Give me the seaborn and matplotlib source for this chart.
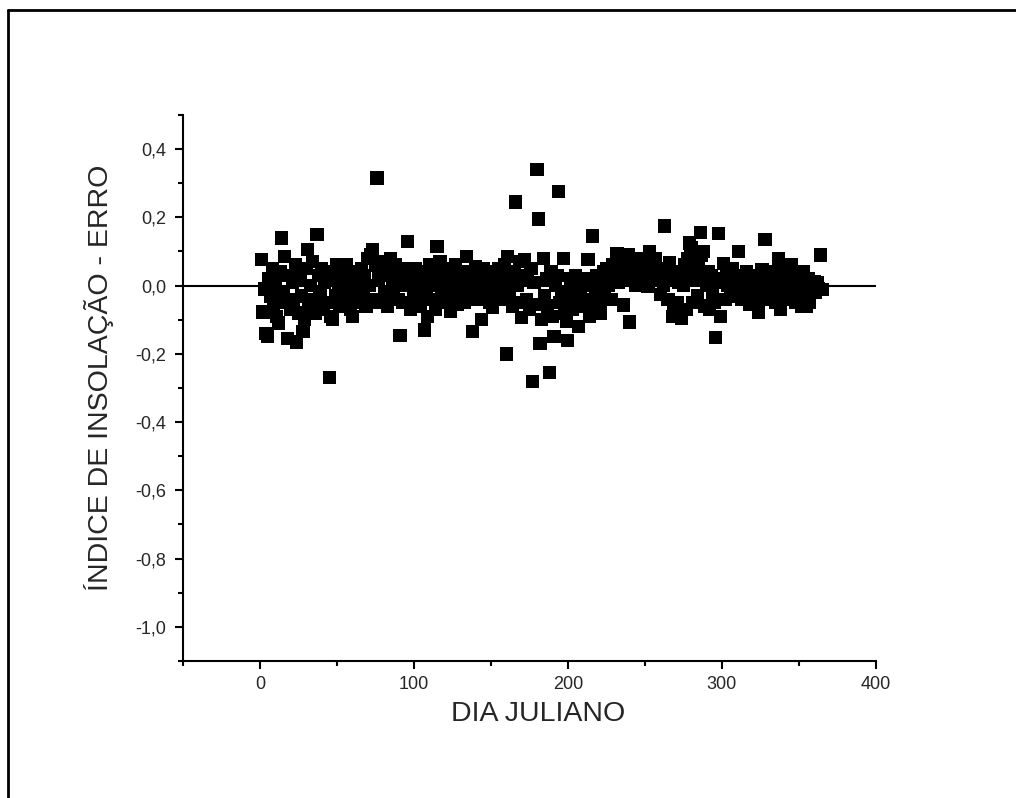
import numpy as np
import pandas as pd
import matplotlib
matplotlib.use("Agg")
import matplotlib.pyplot as plt
from matplotlib.ticker import MultipleLocator
from matplotlib.lines import Line2D
import seaborn as sns

# Erro do indice de insolacao por dia juliano
erro = [
    0.076, -0.077, -0.01, -0.14, -0.15, 0.02, -0.03, 0.05, -0.06, 0.01,
    -0.09, -0.11, 0.04, 0.14, -0.02, 0.085, -0.05, -0.155, 0.03, -0.07,
    0.01, -0.04, 0.06, -0.165, -0.08, 0.02, -0.03, -0.135, -0.1, 0.05,
    0.105, -0.06, 0.0, 0.07, -0.04, -0.08, 0.15, 0.03, -0.02, 0.05,
    -0.07, 0.01, -0.05, 0.04, -0.27, -0.09, -0.1, 0.02, -0.03, 0.06,
    0.0, -0.06, 0.03, -0.02, 0.05, 0.06, -0.04, 0.01, -0.07, -0.09,
    0.02, -0.03, 0.04, -0.05, 0.01, 0.05, -0.02, 0.03, -0.06, 0.08,
    0.0, 0.09, 0.105, -0.04, 0.06, 0.315, 0.02, -0.05, 0.07, 0.03,
    -0.02, 0.05, -0.06, 0.04, 0.08, 0.01, -0.03, 0.06, 0.02, -0.04,
    -0.147, 0.03, -0.05, 0.05, 0.0, 0.13, 0.04, -0.07, 0.02, -0.03,
    0.05, -0.01, 0.03, -0.06, 0.04, 0.01, -0.13, -0.02, -0.09, 0.06,
    -0.04, 0.03, 0.0, -0.07, 0.115, 0.02, 0.07, -0.03, 0.04, -0.05,
    0.01, 0.05, -0.02, -0.075, 0.03, -0.04, 0.06, -0.056, 0.0, 0.04,
    -0.03, 0.02, -0.05, 0.085, 0.01, -0.02, 0.04, -0.135, 0.03, 0.056,
    -0.04, 0.02, -0.01, -0.1, 0.05, 0.0, -0.03, 0.03, -0.05, 0.02,
    -0.065, 0.04, -0.02, 0.01, 0.05, -0.04, 0.03, -0.01, 0.06, -0.2,
    0.085, -0.03, 0.02, -0.06, 0.04, 0.245, 0.0, -0.05, 0.07, -0.093,
    0.03, 0.075, -0.04, 0.02, -0.07, 0.05, -0.28, 0.01, -0.056, 0.34,
    0.195, -0.17, -0.1, 0.08, -0.03, 0.02, -0.06, -0.255, 0.04, -0.09,
    -0.15, 0.0, 0.03, 0.275, -0.05, -0.02, 0.08, -0.08, -0.105, -0.16,
    -0.03, 0.02, -0.07, -0.01, 0.03, -0.05, -0.12, -0.02, 0.01, -0.06,
    0.02, -0.04, 0.076, -0.09, 0.0, 0.145, -0.08, -0.03, 0.03, -0.06,
    -0.08, 0.01, 0.04, -0.02, 0.05, 0.0, 0.03, -0.04, 0.06, 0.02,
    0.04, 0.094, 0.01, 0.06, 0.03, -0.057, 0.05, 0.02, 0.09, -0.107,
    0.07, 0.03, 0.05, 0.0, 0.06, 0.04, 0.08, 0.02, 0.05, 0.01,
    0.07, -0.003, 0.1, 0.04, 0.06, 0.02, 0.08, 0.03, 0.05, -0.027,
    0.04, 0.0, 0.175, 0.05, -0.04, 0.068, 0.02, -0.09, -0.06, 0.03,
    -0.05, 0.01, 0.04, -0.095, 0.0, 0.06, -0.07, 0.08, 0.125, 0.11,
    -0.05, 0.02, 0.07, -0.03, 0.05, 0.155, 0.09, 0.1, -0.06, 0.0,
    0.04, -0.07, 0.03, -0.02, -0.05, -0.153, 0.01, 0.153, -0.09, 0.02,
    0.065, -0.04, 0.03, 0.0, 0.02, -0.03, 0.05, 0.01, -0.02, 0.03,
    0.1, 0.0, -0.04, 0.02, -0.03, 0.04, 0.01, -0.056, 0.03, -0.02,
    0.0, 0.03, -0.05, -0.077, 0.02, 0.047, -0.03, 0.135, 0.01, -0.04,
    0.03, -0.02, 0.0, 0.04, -0.05, 0.02, 0.08, -0.07, 0.01, -0.03,
    0.05, -0.04, 0.02, -0.01, 0.06, 0.0, 0.027, -0.05, 0.03, -0.02,
    0.01, -0.06, 0.04, -0.03, -0.062, 0.02, -0.05, 0.0, 0.01, 0.012,
    -0.02, 0.01, -0.01, 0.09, -0.012,
]
dia = list(range(1, len(erro) + 1))

x_ticks = [0, 100, 200, 300, 400]
y_ticks = [-1.0, -0.8, -0.6, -0.4, -0.2, 0.0, 0.2, 0.4]
y_labels = ["-1,0", "-0,8", "-0,6", "-0,4", "-0,2", "0,0", "0,2", "0,4"]

df = pd.DataFrame({"dia": dia, "erro": erro})

sns.set_style("ticks")
plt.rcParams["font.family"] = ["Liberation Sans", "DejaVu Sans"]

fig = plt.figure(figsize=(10.16, 7.98), dpi=100)
ax = fig.add_axes([0.180, 0.1717, 0.682, 0.6842])

ax.axhline(0, color="black", lw=1.5, zorder=1)
sns.scatterplot(data=df, x="dia", y="erro", marker="s", s=92, color="black",
                edgecolor="none", linewidth=0, ax=ax, zorder=2)

ax.set_xlim(-50, 400)
ax.set_ylim(-1.1, 0.5)
ax.set_xticks(x_ticks)
ax.set_xticklabels([str(t) for t in x_ticks])
ax.set_yticks(y_ticks)
ax.set_yticklabels(y_labels)
ax.xaxis.set_minor_locator(MultipleLocator(50))
ax.yaxis.set_minor_locator(MultipleLocator(0.1))

ax.tick_params(which="major", length=6, width=1.5, labelsize=13, direction="out", color="black")
ax.tick_params(which="minor", length=3.5, width=1.5, direction="out", color="black")
ax.tick_params(axis="x", pad=5)
ax.tick_params(axis="y", pad=6)

sns.despine(ax=ax)
for side in ["left", "bottom"]:
    ax.spines[side].set_linewidth(1.5)
    ax.spines[side].set_color("black")

ax.set_xlabel("DIA JULIANO", fontsize=20.5)
ax.set_ylabel("ÍNDICE DE INSOLAÇÃO - ERRO", fontsize=20.5)
ax.xaxis.set_label_coords(0.512, -0.074)
ax.yaxis.set_label_coords(-0.10, 0.518)

# moldura da pagina (topo e esquerda)
fig.add_artist(Line2D([7.5 / 1016, 1.0], [1 - 10 / 798, 1 - 10 / 798], color="black", lw=2,
                      transform=fig.transFigure))
fig.add_artist(Line2D([7.5 / 1016, 7.5 / 1016], [0.0, 1 - 10 / 798], color="black", lw=2,
                      transform=fig.transFigure))

fig.savefig("out.png", dpi=100)
